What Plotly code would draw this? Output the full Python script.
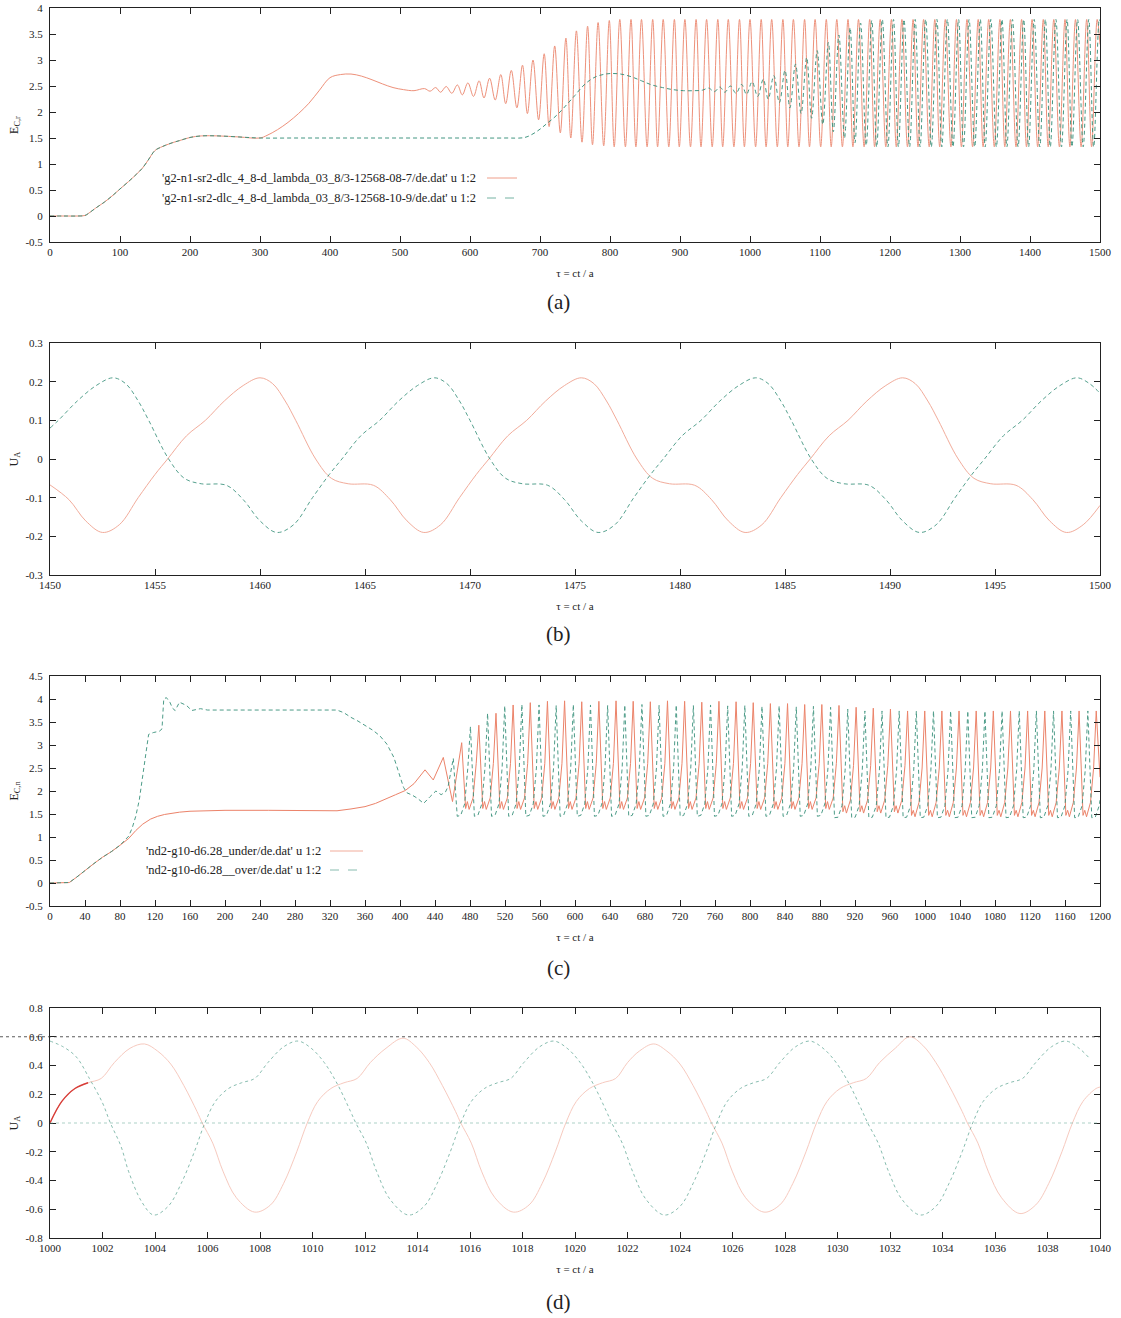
import plotly.graph_objects as go

# ---------------- DATA ----------------
# Panel (a): E_C,r vs tau, 0..1500
a_start_t = [0, 20, 40, 50, 55, 65, 78, 90, 100, 112, 124, 132, 140, 150, 158, 165, 175, 185, 200, 216, 240, 270, 300]
a_start_y = [0, 0, 0, 0.01, 0.05, 0.15, 0.27, 0.40, 0.52, 0.66, 0.81, 0.92, 1.07, 1.26, 1.32, 1.36, 1.41, 1.45, 1.51, 1.54, 1.54, 1.52, 1.50]

red_a_pre_t = [310, 325, 340, 355, 370, 385, 400, 415, 430, 445, 460, 475, 490, 505, 520]
red_a_pre_y = [1.55, 1.66, 1.80, 1.97, 2.17, 2.42, 2.66, 2.72, 2.73, 2.69, 2.62, 2.54, 2.47, 2.43, 2.41]
red_a_ext_t = [535, 543, 551, 558, 566, 574, 582, 589,
               597, 605, 613, 620, 628, 636, 644, 651,
               659, 667, 675, 682, 690, 698, 706, 713,
               721, 729, 737, 744, 752, 760, 768, 775,
               783, 791, 799, 806, 814, 822, 830, 837,
               845, 853, 861, 868, 876, 884, 892, 899,
               907, 915, 923, 930, 938, 946, 954, 961,
               969, 977, 985, 992, 1000, 1008, 1016, 1023,
               1031, 1039, 1047, 1054, 1062, 1070, 1078, 1085,
               1093, 1101, 1109, 1116, 1124, 1132, 1140, 1147,
               1155, 1163, 1171, 1178, 1186, 1194, 1202, 1209,
               1217, 1225, 1233, 1240, 1248, 1256, 1264, 1271,
               1279, 1287, 1295, 1302, 1310, 1318, 1326, 1333,
               1341, 1349, 1357, 1364, 1372, 1380, 1388, 1395,
               1403, 1411, 1419, 1426, 1434, 1442, 1450, 1457,
               1465, 1473, 1481, 1488, 1496, 1500]
red_a_ext_y = [2.45, 2.40, 2.47, 2.38, 2.49, 2.36, 2.52, 2.33, 2.56, 2.30,
               2.60, 2.27, 2.65, 2.23, 2.72, 2.16, 2.80, 2.08, 2.90, 1.97,
               3.00, 1.85, 3.12, 1.72, 3.27, 1.60, 3.42, 1.50, 3.56, 1.42,
               3.65, 1.37, 3.72, 1.35, 3.76, 1.33,
               3.78, 1.33, 3.78, 1.33, 3.78, 1.33, 3.78, 1.33, 3.78, 1.33,
               3.78, 1.33, 3.78, 1.33, 3.78, 1.33, 3.78, 1.33, 3.78, 1.33,
               3.78, 1.33, 3.78, 1.33, 3.78, 1.33, 3.78, 1.33, 3.78, 1.33,
               3.78, 1.33, 3.78, 1.33, 3.78, 1.33, 3.78, 1.33, 3.78, 1.33,
               3.78, 1.33, 3.78, 1.33, 3.78, 1.33, 3.78, 1.33, 3.78, 1.33,
               3.78, 1.33, 3.78, 1.33, 3.78, 1.33, 3.78, 1.33, 3.78, 1.33,
               3.78, 1.33, 3.78, 1.33, 3.78, 1.33, 3.78, 1.33, 3.78, 1.33,
               3.78, 1.33, 3.78, 1.33, 3.78, 1.33, 3.78, 1.33, 3.78, 1.33,
               3.78, 1.33, 3.78, 1.33, 3.78, 1.33, 3.78, 1.33, 3.78, 3.30]

green_a_pre_t = [350, 400, 450, 500, 550, 600, 650, 678, 690, 700, 710, 720, 730, 740, 750, 760,
                 770, 780, 790, 800, 815, 830, 845, 860, 875, 890, 905, 920, 932]
green_a_pre_y = [1.5, 1.5, 1.5, 1.5, 1.5, 1.5, 1.5, 1.51, 1.58, 1.67, 1.78, 1.89, 2.02, 2.17, 2.32, 2.48,
                 2.60, 2.68, 2.72, 2.74, 2.73, 2.68, 2.60, 2.52, 2.47, 2.43, 2.41, 2.41, 2.42]
green_a_ext_t = [941, 949, 957, 964, 972, 980, 988, 995,
                 1003, 1011, 1019, 1026, 1034, 1042, 1050, 1057,
                 1065, 1073, 1081, 1088, 1096, 1104, 1112, 1119,
                 1127, 1135, 1143, 1150, 1158, 1166, 1174, 1181,
                 1189, 1197, 1205, 1212, 1220, 1228, 1236, 1243,
                 1251, 1259, 1267, 1274, 1282, 1290, 1298, 1305,
                 1313, 1321, 1329, 1336, 1344, 1352, 1360, 1367,
                 1375, 1383, 1391, 1398, 1406, 1414, 1422, 1429,
                 1437, 1445, 1453, 1460, 1468, 1476, 1484, 1491,
                 1499, 1500]
green_a_ext_y = [2.46, 2.39, 2.48, 2.38, 2.50, 2.36, 2.53, 2.34, 2.58, 2.30,
                 2.63, 2.25, 2.70, 2.18, 2.80, 2.08, 2.92, 1.97, 3.05, 1.88,
                 3.18, 1.76, 3.34, 1.62, 3.48, 1.50, 3.62, 1.41, 3.71, 1.36,
                 3.76, 1.33,
                 3.78, 1.33, 3.78, 1.33, 3.78, 1.33, 3.78, 1.33, 3.78, 1.33,
                 3.78, 1.33, 3.78, 1.33, 3.78, 1.33, 3.78, 1.33, 3.78, 1.33,
                 3.78, 1.33, 3.78, 1.33, 3.78, 1.33, 3.78, 1.33, 3.78, 1.33,
                 3.78, 1.33, 3.78, 1.33, 3.78, 1.33, 3.78, 1.33, 3.78, 1.33,
                 3.78, 3.75]

# Panel (b): U_A vs tau, 1450..1500
red_b_t = [1450.0, 1450.9, 1451.7, 1452.5, 1453.3, 1454.2, 1455.0, 1455.6, 1456.5, 1457.4, 1458.3, 1459.2,
           1460.0, 1460.6, 1461.2, 1461.7, 1462.65, 1463.4, 1464.2, 1465.4, 1466.2, 1467.0, 1467.8, 1468.6, 1469.5, 1470.3, 1470.9, 1471.8, 1472.7, 1473.6, 1474.5,
           1475.3, 1475.9, 1476.5, 1477.0, 1477.95, 1478.7, 1479.5, 1480.7, 1481.5, 1482.3, 1483.1, 1483.9, 1484.8, 1485.6, 1486.2, 1487.1, 1488.0, 1488.9, 1489.8,
           1490.6, 1491.2, 1491.8, 1492.3, 1493.25, 1494.0, 1494.8, 1496.0, 1496.8, 1497.6, 1498.4, 1499.2, 1500.0]
red_b_y = [-0.067, -0.105, -0.16, -0.19, -0.17, -0.10, -0.04, 0.0, 0.06, 0.10, 0.15, 0.19,
           0.21, 0.195, 0.15, 0.10, 0.0, -0.05, -0.064, -0.068, -0.105, -0.16, -0.19, -0.17, -0.10, -0.04, 0.0, 0.06, 0.10, 0.15, 0.19,
           0.21, 0.195, 0.15, 0.10, 0.0, -0.05, -0.064, -0.068, -0.105, -0.16, -0.19, -0.17, -0.10, -0.04, 0.0, 0.06, 0.10, 0.15, 0.19,
           0.21, 0.195, 0.15, 0.10, 0.0, -0.05, -0.064, -0.068, -0.105, -0.16, -0.19, -0.17, -0.12]
green_b_t = [1450.0, 1450.4, 1451.3, 1452.2,
             1453.0, 1453.6, 1454.2, 1454.7, 1455.65, 1456.4, 1457.2, 1458.4, 1459.2, 1460.0, 1460.8, 1461.6, 1462.5, 1463.3, 1463.9, 1464.8, 1465.7, 1466.6, 1467.5,
             1468.3, 1468.9, 1469.5, 1470.0, 1470.95, 1471.7, 1472.5, 1473.7, 1474.5, 1475.3, 1476.1, 1476.9, 1477.8, 1478.6, 1479.2, 1480.1, 1481.0, 1481.9, 1482.8,
             1483.6, 1484.2, 1484.8, 1485.3, 1486.25, 1487.0, 1487.8, 1489.0, 1489.8, 1490.6, 1491.4, 1492.2, 1493.1, 1493.9, 1494.5, 1495.4, 1496.3, 1497.2, 1498.1,
             1498.9, 1499.5, 1500.0]
green_b_y = [0.08, 0.10, 0.15, 0.19,
             0.21, 0.195, 0.15, 0.10, 0.0, -0.05, -0.064, -0.068, -0.105, -0.16, -0.19, -0.17, -0.10, -0.04, 0.0, 0.06, 0.10, 0.15, 0.19,
             0.21, 0.195, 0.15, 0.10, 0.0, -0.05, -0.064, -0.068, -0.105, -0.16, -0.19, -0.17, -0.10, -0.04, 0.0, 0.06, 0.10, 0.15, 0.19,
             0.21, 0.195, 0.15, 0.10, 0.0, -0.05, -0.064, -0.068, -0.105, -0.16, -0.19, -0.17, -0.10, -0.04, 0.0, 0.06, 0.10, 0.15, 0.19,
             0.21, 0.195, 0.17]

# Panel (c): E_C,n vs tau, 0..1200
c_start_t = [0, 15, 22, 30, 40, 50, 60, 70, 80]
c_start_y = [0, 0, 0.01, 0.12, 0.28, 0.42, 0.56, 0.68, 0.82]

red_c_pre_t = [90, 98, 106, 115, 123, 131, 140, 148, 160, 200, 250, 300, 328, 344, 360, 372, 385, 395, 406, 416, 428.6, 438, 449.5, 460]
red_c_pre_y = [0.97, 1.14, 1.28, 1.39, 1.45, 1.49, 1.52, 1.54, 1.56, 1.58, 1.58, 1.57, 1.57, 1.61, 1.66, 1.73, 1.83, 1.92, 2.01, 2.16, 2.46, 2.24, 2.73, 1.77]
red_c_osc_t = [
    470.5, 475.0, 477.0, 479.0, 483.5, 487.1,
    490.1, 494.6, 496.6, 498.6, 503.1, 506.7,
    509.7, 514.2, 516.2, 518.2, 522.7, 526.3,
    529.3, 533.8, 535.8, 537.8, 542.3, 545.9,
    548.9, 553.4, 555.4, 557.4, 561.9, 565.5,
    568.5, 573.0, 575.0, 577.0, 581.5, 585.1,
    588.1, 592.6, 594.6, 596.6, 601.1, 604.7,
    607.7, 612.2, 614.2, 616.2, 620.7, 624.3,
    627.3, 631.8, 633.8, 635.8, 640.3, 643.9,
    646.9, 651.4, 653.4, 655.4, 659.9, 663.5,
    666.5, 671.0, 673.0, 675.0, 679.5, 683.1,
    686.1, 690.6, 692.6, 694.6, 699.1, 702.7,
    705.7, 710.2, 712.2, 714.2, 718.7, 722.3,
    725.3, 729.8, 731.8, 733.8, 738.3, 741.9,
    744.9, 749.4, 751.4, 753.4, 757.9, 761.5,
    764.5, 769.0, 771.0, 773.0, 777.5, 781.1,
    784.1, 788.6, 790.6, 792.6, 797.1, 800.7,
    803.7, 808.2, 810.2, 812.2, 816.7, 820.3,
    823.3, 827.8, 829.8, 831.8, 836.3, 839.9,
    842.9, 847.4, 849.4, 851.4, 855.9, 859.5,
    862.5, 867.0, 869.0, 871.0, 875.5, 879.1,
    882.1, 886.6, 888.6, 890.6, 895.1, 898.7,
    901.7, 906.2, 908.2, 910.2, 914.7, 918.3,
    921.3, 925.8, 927.8, 929.8, 934.3, 937.9,
    940.9, 945.4, 947.4, 949.4, 953.9, 957.5,
    960.5, 965.0, 967.0, 969.0, 973.5, 977.1,
    980.1, 984.6, 986.6, 988.6, 993.1, 996.7,
    999.7, 1004.2, 1006.2, 1008.2, 1012.7, 1016.3,
    1019.3, 1023.8, 1025.8, 1027.8, 1032.3, 1035.9,
    1038.9, 1043.4, 1045.4, 1047.4, 1051.9, 1055.5,
    1058.5, 1063.0, 1065.0, 1067.0, 1071.5, 1075.1,
    1078.1, 1082.6, 1084.6, 1086.6, 1091.1, 1094.7,
    1097.7, 1102.2, 1104.2, 1106.2, 1110.7, 1114.3,
    1117.3, 1121.8, 1123.8, 1125.8, 1130.3, 1133.9,
    1136.9, 1141.4, 1143.4, 1145.4, 1149.9, 1153.5,
    1156.5, 1161.0, 1163.0, 1165.0, 1169.5, 1173.1,
    1176.1, 1180.6, 1182.6, 1184.6, 1189.1, 1192.7,
    1195.7, 1200.0]
red_c_osc_y = [
    3.05, 1.62, 1.77, 1.60, 1.85, 2.60,
    3.43, 1.62, 1.77, 1.60, 1.85, 2.60,
    3.69, 1.62, 1.77, 1.60, 1.85, 2.60,
    3.87, 1.62, 1.77, 1.60, 1.85, 2.60,
    3.92, 1.62, 1.77, 1.60, 1.85, 2.60,
    3.95, 1.62, 1.77, 1.60, 1.85, 2.60,
    3.96, 1.62, 1.77, 1.60, 1.85, 2.60,
    3.94, 1.62, 1.77, 1.60, 1.85, 2.60,
    3.95, 1.62, 1.77, 1.60, 1.85, 2.60,
    3.96, 1.62, 1.77, 1.60, 1.85, 2.60,
    3.95, 1.62, 1.77, 1.60, 1.85, 2.60,
    3.94, 1.62, 1.77, 1.60, 1.85, 2.60,
    3.96, 1.62, 1.77, 1.60, 1.85, 2.60,
    3.95, 1.62, 1.77, 1.60, 1.85, 2.60,
    3.93, 1.62, 1.77, 1.60, 1.85, 2.60,
    3.95, 1.62, 1.77, 1.60, 1.85, 2.60,
    3.94, 1.62, 1.77, 1.60, 1.85, 2.60,
    3.92, 1.62, 1.77, 1.60, 1.85, 2.60,
    3.90, 1.62, 1.77, 1.60, 1.85, 2.60,
    3.90, 1.62, 1.77, 1.60, 1.85, 2.60,
    3.88, 1.62, 1.77, 1.60, 1.85, 2.60,
    3.88, 1.62, 1.77, 1.60, 1.85, 2.60,
    3.86, 1.55, 1.68, 1.52, 1.80, 2.55,
    3.82, 1.55, 1.68, 1.52, 1.80, 2.55,
    3.80, 1.55, 1.68, 1.52, 1.80, 2.55,
    3.78, 1.55, 1.68, 1.52, 1.80, 2.55,
    3.74, 1.47, 1.58, 1.44, 1.75, 2.50,
    3.74, 1.47, 1.58, 1.44, 1.75, 2.50,
    3.74, 1.47, 1.58, 1.44, 1.75, 2.50,
    3.74, 1.47, 1.58, 1.44, 1.75, 2.50,
    3.74, 1.47, 1.58, 1.44, 1.75, 2.50,
    3.74, 1.47, 1.58, 1.44, 1.75, 2.50,
    3.74, 1.47, 1.58, 1.44, 1.75, 2.50,
    3.74, 1.47, 1.58, 1.44, 1.75, 2.50,
    3.74, 1.47, 1.58, 1.44, 1.75, 2.50,
    3.74, 1.47, 1.58, 1.44, 1.75, 2.50,
    3.74, 1.47, 1.58, 1.44, 1.75, 2.50,
    3.74, 2.30]

green_c_pre_t = [85, 90, 94, 98, 102, 105, 108, 110.5, 112.7, 118,
                 125, 128, 130, 133, 137, 140, 143, 148, 152, 156,
                 162, 168, 172, 180, 220, 260, 300, 328, 336, 344,
                 352, 361, 369, 377, 385, 393, 399, 404, 408, 414,
                 420, 427, 434, 441, 447, 452, 455]
green_c_pre_y = [0.92, 1.02, 1.20, 1.45, 1.80, 2.20, 2.60, 2.90, 3.23, 3.27,
                 3.30, 3.35, 4.00, 4.03, 3.93, 3.80, 3.75, 3.93, 3.90, 3.86,
                 3.75, 3.77, 3.79, 3.76, 3.76, 3.76, 3.76, 3.76, 3.70, 3.60,
                 3.52, 3.42, 3.32, 3.20, 3.02, 2.73, 2.40, 2.08, 1.96, 1.91,
                 1.84, 1.73, 1.87, 2.00, 1.92, 1.98, 2.10]
green_c_osc_t = [
    460.9, 465.4, 469.4, 473.9, 477.5,
    480.5, 485.0, 489.0, 493.5, 497.1,
    500.1, 504.6, 508.6, 513.1, 516.7,
    519.7, 524.2, 528.2, 532.7, 536.3,
    539.3, 543.8, 547.8, 552.3, 555.9,
    558.9, 563.4, 567.4, 571.9, 575.5,
    578.5, 583.0, 587.0, 591.5, 595.1,
    598.1, 602.6, 606.6, 611.1, 614.7,
    617.7, 622.2, 626.2, 630.7, 634.3,
    637.3, 641.8, 645.8, 650.3, 653.9,
    656.9, 661.4, 665.4, 669.9, 673.5,
    676.5, 681.0, 685.0, 689.5, 693.1,
    696.1, 700.6, 704.6, 709.1, 712.7,
    715.7, 720.2, 724.2, 728.7, 732.3,
    735.3, 739.8, 743.8, 748.3, 751.9,
    754.9, 759.4, 763.4, 767.9, 771.5,
    774.5, 779.0, 783.0, 787.5, 791.1,
    794.1, 798.6, 802.6, 807.1, 810.7,
    813.7, 818.2, 822.2, 826.7, 830.3,
    833.3, 837.8, 841.8, 846.3, 849.9,
    852.9, 857.4, 861.4, 865.9, 869.5,
    872.5, 877.0, 881.0, 885.5, 889.1,
    892.1, 896.6, 900.6, 905.1, 908.7,
    911.7, 916.2, 920.2, 924.7, 928.3,
    931.3, 935.8, 939.8, 944.3, 947.9,
    950.9, 955.4, 959.4, 963.9, 967.5,
    970.5, 975.0, 979.0, 983.5, 987.1,
    990.1, 994.6, 998.6, 1003.1, 1006.7,
    1009.7, 1014.2, 1018.2, 1022.7, 1026.3,
    1029.3, 1033.8, 1037.8, 1042.3, 1045.9,
    1048.9, 1053.4, 1057.4, 1061.9, 1065.5,
    1068.5, 1073.0, 1077.0, 1081.5, 1085.1,
    1088.1, 1092.6, 1096.6, 1101.1, 1104.7,
    1107.7, 1112.2, 1116.2, 1120.7, 1124.3,
    1127.3, 1131.8, 1135.8, 1140.3, 1143.9,
    1146.9, 1151.4, 1155.4, 1159.9, 1163.5,
    1166.5, 1171.0, 1175.0, 1179.5, 1183.1,
    1186.1, 1190.6, 1194.6, 1199.1, 1200.0]
green_c_osc_y = [
    2.71, 1.45, 1.47, 1.72, 2.50,
    3.40, 1.45, 1.47, 1.72, 2.50,
    3.69, 1.45, 1.47, 1.72, 2.50,
    3.85, 1.45, 1.47, 1.72, 2.50,
    3.88, 1.45, 1.47, 1.72, 2.50,
    3.87, 1.45, 1.47, 1.72, 2.50,
    3.86, 1.45, 1.47, 1.72, 2.50,
    3.88, 1.45, 1.47, 1.72, 2.50,
    3.87, 1.45, 1.47, 1.72, 2.50,
    3.86, 1.45, 1.47, 1.72, 2.50,
    3.87, 1.45, 1.47, 1.72, 2.50,
    3.88, 1.45, 1.47, 1.72, 2.50,
    3.86, 1.45, 1.47, 1.72, 2.50,
    3.87, 1.45, 1.47, 1.72, 2.50,
    3.86, 1.45, 1.47, 1.72, 2.50,
    3.87, 1.45, 1.47, 1.72, 2.50,
    3.85, 1.45, 1.47, 1.72, 2.50,
    3.86, 1.45, 1.47, 1.72, 2.50,
    3.84, 1.45, 1.47, 1.72, 2.50,
    3.85, 1.45, 1.47, 1.72, 2.50,
    3.83, 1.45, 1.47, 1.72, 2.50,
    3.84, 1.45, 1.47, 1.72, 2.50,
    3.82, 1.42, 1.43, 1.68, 2.45,
    3.78, 1.42, 1.43, 1.68, 2.45,
    3.74, 1.42, 1.43, 1.68, 2.45,
    3.74, 1.42, 1.43, 1.68, 2.45,
    3.74, 1.42, 1.43, 1.68, 2.45,
    3.74, 1.42, 1.43, 1.68, 2.45,
    3.74, 1.42, 1.43, 1.68, 2.45,
    3.74, 1.42, 1.43, 1.68, 2.45,
    3.74, 1.42, 1.43, 1.68, 2.45,
    3.74, 1.42, 1.43, 1.68, 2.45,
    3.74, 1.42, 1.43, 1.68, 2.45,
    3.74, 1.42, 1.43, 1.68, 2.45,
    3.74, 1.42, 1.43, 1.68, 2.45,
    3.74, 1.42, 1.43, 1.68, 2.45,
    3.74, 1.42, 1.43, 1.68, 2.45,
    3.74, 1.42, 1.43, 1.68, 1.80]

# Panel (d): U_A vs tau, 1000..1040
red_d_t = [1000.0, 1000.45, 1000.95, 1001.45, 1001.95, 1002.45, 1003.05,
           1003.6, 1004.1, 1004.6, 1005.1, 1005.6, 1005.8, 1006.2, 1006.6, 1007.1, 1007.8, 1008.4, 1008.9, 1009.4, 1009.8, 1010.2, 1010.7, 1011.2, 1011.7, 1012.2, 1012.8,
           1013.45, 1013.95, 1014.45, 1014.95, 1015.45, 1015.65, 1016.05, 1016.45, 1016.95, 1017.65, 1018.25, 1018.75, 1019.25, 1019.65, 1020.05, 1020.55, 1021.05, 1021.55, 1022.0, 1022.45,
           1023.0, 1023.5, 1024.0, 1024.5, 1025.0, 1025.2, 1025.6, 1026.0, 1026.5, 1027.2, 1027.8, 1028.3, 1028.8, 1029.2, 1029.6, 1030.1, 1030.6, 1031.1, 1031.6, 1032.2,
           1032.75, 1033.25, 1033.75, 1034.25, 1034.75, 1034.95, 1035.35, 1035.75, 1036.25, 1036.95, 1037.55, 1038.05, 1038.55, 1038.95, 1039.35, 1039.85, 1040.0]
red_d_y = [0.0, 0.15, 0.24, 0.28, 0.31, 0.42, 0.52,
           0.55, 0.50, 0.41, 0.26, 0.08, 0.0, -0.14, -0.34, -0.52, -0.62, -0.57, -0.42, -0.20, 0.0, 0.15, 0.24, 0.28, 0.31, 0.42, 0.52,
           0.59, 0.53, 0.42, 0.26, 0.08, 0.0, -0.14, -0.34, -0.52, -0.62, -0.57, -0.42, -0.20, 0.0, 0.15, 0.24, 0.28, 0.31, 0.42, 0.50,
           0.55, 0.50, 0.41, 0.26, 0.08, 0.0, -0.14, -0.34, -0.52, -0.62, -0.57, -0.42, -0.20, 0.0, 0.15, 0.24, 0.28, 0.31, 0.42, 0.52,
           0.60, 0.54, 0.42, 0.26, 0.08, 0.0, -0.14, -0.34, -0.52, -0.63, -0.57, -0.42, -0.20, 0.0, 0.15, 0.24, 0.25]
green_d_t = [1000.0, 1000.5, 1001.0, 1001.5, 1002.0, 1002.3, 1002.7, 1003.0, 1003.5, 1003.95, 1004.5, 1005.0, 1005.5, 1005.9, 1006.3, 1006.8, 1007.3, 1007.8, 1008.3, 1008.9,
             1009.45, 1009.95, 1010.45, 1010.95, 1011.45, 1011.65, 1012.05, 1012.45, 1012.95, 1013.65, 1014.25, 1014.75, 1015.25, 1015.65, 1016.05, 1016.55, 1017.05, 1017.55, 1018.05, 1018.65,
             1019.2, 1019.7, 1020.2, 1020.7, 1021.2, 1021.4, 1021.8, 1022.2, 1022.7, 1023.4, 1024.0, 1024.5, 1025.0, 1025.4, 1025.8, 1026.3, 1026.8, 1027.3, 1027.8, 1028.4,
             1028.95, 1029.45, 1029.95, 1030.45, 1030.95, 1031.15, 1031.55, 1031.95, 1032.45, 1033.15, 1033.75, 1034.25, 1034.75, 1035.15, 1035.55, 1036.05, 1036.55, 1037.05, 1037.55, 1038.15,
             1038.7, 1039.2, 1039.6]
green_d_y = [0.57, 0.53, 0.46, 0.31, 0.14, 0.0, -0.16, -0.34, -0.55, -0.64, -0.58, -0.42, -0.20, 0.0, 0.15, 0.24, 0.28, 0.31, 0.42, 0.53,
             0.57, 0.52, 0.42, 0.27, 0.08, 0.0, -0.14, -0.34, -0.53, -0.64, -0.58, -0.42, -0.20, 0.0, 0.15, 0.24, 0.28, 0.31, 0.42, 0.53,
             0.57, 0.52, 0.42, 0.27, 0.08, 0.0, -0.14, -0.34, -0.53, -0.64, -0.58, -0.42, -0.20, 0.0, 0.15, 0.24, 0.28, 0.31, 0.42, 0.53,
             0.57, 0.52, 0.42, 0.27, 0.08, 0.0, -0.14, -0.34, -0.53, -0.64, -0.58, -0.42, -0.20, 0.0, 0.15, 0.24, 0.28, 0.31, 0.42, 0.53,
             0.57, 0.52, 0.45]

# Tick values / labels
a_xticks = [0, 100, 200, 300, 400, 500, 600, 700, 800, 900, 1000, 1100, 1200, 1300, 1400, 1500]
a_yticks = [-0.5, 0, 0.5, 1, 1.5, 2, 2.5, 3, 3.5, 4]
a_ylabels = ["-0.5", "0", "0.5", "1", "1.5", "2", "2.5", "3", "3.5", "4"]
b_xticks = [1450, 1455, 1460, 1465, 1470, 1475, 1480, 1485, 1490, 1495, 1500]
b_yticks = [-0.3, -0.2, -0.1, 0, 0.1, 0.2, 0.3]
b_ylabels = ["-0.3", "-0.2", "-0.1", "0", "0.1", "0.2", "0.3"]
c_xticks = [0, 40, 80, 120, 160, 200, 240, 280, 320, 360, 400, 440, 480, 520, 560, 600,
            640, 680, 720, 760, 800, 840, 880, 920, 960, 1000, 1040, 1080, 1120, 1160, 1200]
c_yticks = [-0.5, 0, 0.5, 1, 1.5, 2, 2.5, 3, 3.5, 4, 4.5]
c_ylabels = ["-0.5", "0", "0.5", "1", "1.5", "2", "2.5", "3", "3.5", "4", "4.5"]
d_xticks = [1000, 1002, 1004, 1006, 1008, 1010, 1012, 1014, 1016, 1018, 1020,
            1022, 1024, 1026, 1028, 1030, 1032, 1034, 1036, 1038, 1040]
d_yticks = [-0.8, -0.6, -0.4, -0.2, 0, 0.2, 0.4, 0.6, 0.8]
d_ylabels = ["-0.8", "-0.6", "-0.4", "-0.2", "0", "0.2", "0.4", "0.6", "0.8"]

legend_a = ["'g2-n1-sr2-dlc_4_8-d_lambda_03_8/3-12568-08-7/de.dat' u 1:2",
            "'g2-n1-sr2-dlc_4_8-d_lambda_03_8/3-12568-10-9/de.dat' u 1:2"]
legend_c = ["'nd2-g10-d6.28_under/de.dat' u 1:2",
            "'nd2-g10-d6.28__over/de.dat' u 1:2"]
x_title = "τ = ct / a"
y_titles = ["E<sub>C,r</sub>", "U<sub>A</sub>", "E<sub>C,n</sub>", "U<sub>A</sub>"]
captions = ["(a)", "(b)", "(c)", "(d)"]

# ---------------- CHECKS ----------------
pairs = [(a_start_t, a_start_y), (red_a_pre_t, red_a_pre_y), (red_a_ext_t, red_a_ext_y),
         (green_a_pre_t, green_a_pre_y), (green_a_ext_t, green_a_ext_y),
         (red_b_t, red_b_y), (green_b_t, green_b_y), (c_start_t, c_start_y),
         (red_c_pre_t, red_c_pre_y), (red_c_osc_t, red_c_osc_y),
         (green_c_pre_t, green_c_pre_y), (green_c_osc_t, green_c_osc_y),
         (red_d_t, red_d_y), (green_d_t, green_d_y)]
for i, (tt, yy) in enumerate(pairs):
    assert len(tt) == len(yy), (i, len(tt), len(yy))

# ---------------- FIGURE ----------------
W, H = 1121, 1318
LEFT, RIGHT = 50, 1100
BOX = {1: (8, 242), 2: (343, 575), 3: (676, 906), 4: (1008, 1238)}
CAP_Y = {1: 302, 2: 634, 3: 968, 4: 1302}
RED = "rgb(234,118,90)"
GREEN = "rgb(58,146,124)"
FONT = "Liberation Serif, Times New Roman, serif"


def fx(p):
    return p / W


def fy(p):
    return 1 - p / H


fig = go.Figure()


def add(ts, ys, idx, color, dash, shape, opacity=1.0, width=1.0):
    xa = "x" if idx == 1 else f"x{idx}"
    ya = "y" if idx == 1 else f"y{idx}"
    fig.add_trace(go.Scatter(x=ts, y=ys, xaxis=xa, yaxis=ya, mode="lines",
                             line=dict(color=color, width=width, dash=dash, shape=shape),
                             opacity=opacity, hoverinfo="skip", showlegend=False))


DASH = "4px,3px"
# (a)
add(a_start_t + red_a_pre_t + red_a_ext_t, a_start_y + red_a_pre_y + red_a_ext_y, 1, RED, "solid", "spline", 0.8)
add(a_start_t + green_a_pre_t + green_a_ext_t, a_start_y + green_a_pre_y + green_a_ext_y, 1, GREEN, DASH, "spline", 0.95)
# (b)
add(red_b_t, red_b_y, 2, RED, "solid", "spline", 0.6)
add(green_b_t, green_b_y, 2, GREEN, DASH, "spline", 0.85)
# (c)
add(c_start_t + red_c_pre_t + red_c_osc_t, c_start_y + red_c_pre_y + red_c_osc_y, 3, RED, "solid", "linear", 0.9)
add(c_start_t + green_c_pre_t + green_c_osc_t, c_start_y + green_c_pre_y + green_c_osc_y, 3, GREEN, DASH, "linear", 0.9)
# (d)  (the reference print is very faint here, except the first red stroke)
add(red_d_t, red_d_y, 4, RED, "solid", "spline", 0.38)
add(green_d_t, green_d_y, 4, GREEN, "3px,3px", "spline", 0.6)
add(red_d_t[:4], red_d_y[:4], 4, "rgb(215,60,55)", "solid", "spline", 1.0, 1.4)

axis_common = dict(showline=True, linecolor="#222", linewidth=1, mirror="ticks", ticks="inside",
                   ticklen=6, tickcolor="#222", tickwidth=1, showgrid=False, zeroline=False,
                   automargin=False,
                   tickfont=dict(family=FONT, size=11, color="#222"), tickmode="array")

cfg = {
    1: ([0, 1500], [-0.5, 4], a_xticks, a_yticks, a_ylabels),
    2: ([1450, 1500], [-0.3, 0.3], b_xticks, b_yticks, b_ylabels),
    3: ([0, 1200], [-0.5, 4.5], c_xticks, c_yticks, c_ylabels),
    4: ([1000, 1040], [-0.8, 0.8], d_xticks, d_yticks, d_ylabels),
}
layout = dict(width=W, height=H, margin=dict(l=0, r=0, t=0, b=0, autoexpand=False),
              plot_bgcolor="white", paper_bgcolor="white", showlegend=False)
for i, (xr, yr, xt, yt, ytl) in cfg.items():
    top, bot = BOX[i]
    xname = "xaxis" if i == 1 else f"xaxis{i}"
    yname = "yaxis" if i == 1 else f"yaxis{i}"
    layout[xname] = dict(domain=[fx(LEFT), fx(RIGHT)], anchor="y" if i == 1 else f"y{i}",
                         range=xr, tickvals=xt, ticktext=[str(v) for v in xt],
                         title=dict(text=x_title, standoff=12, font=dict(family=FONT, size=11, color="#222")),
                         **axis_common)
    layout[yname] = dict(domain=[fy(bot), fy(top)], anchor="x" if i == 1 else f"x{i}",
                         range=yr, tickvals=yt, ticktext=ytl, ticklabelstandoff=4,
                         title=dict(text=y_titles[i - 1], standoff=4, font=dict(family=FONT, size=12, color="#222")),
                         **axis_common)
fig.update_layout(**layout)

ann = []
for i in range(1, 5):
    ann.append(dict(text=captions[i - 1], x=fx(558), y=fy(CAP_Y[i]), xref="paper", yref="paper", showarrow=False,
                    font=dict(family=FONT, size=21, color="#222"), xanchor="center", yanchor="middle"))

# legends (gnuplot style: text, then sample)
shapes = []
for txt, yy, col, dsh in [(legend_a[0], 178, RED, "solid"), (legend_a[1], 198, GREEN, "dash")]:
    ann.append(dict(text=txt, x=fx(478), y=fy(yy), xref="paper", yref="paper", showarrow=False,
                    font=dict(family=FONT, size=12.4, color="#222"), xanchor="right", yanchor="middle"))
    shapes.append(dict(type="line", xref="paper", yref="paper", x0=fx(487), x1=fx(517), y0=fy(yy), y1=fy(yy),
                       line=dict(color=col, width=1, dash=dsh), opacity=0.7))
for txt, yy, col, dsh in [(legend_c[0], 851, RED, "solid"), (legend_c[1], 870, GREEN, "dash")]:
    ann.append(dict(text=txt, x=fx(323), y=fy(yy), xref="paper", yref="paper", showarrow=False,
                    font=dict(family=FONT, size=12.5, color="#222"), xanchor="right", yanchor="middle"))
    shapes.append(dict(type="line", xref="paper", yref="paper", x0=fx(330), x1=fx(363), y0=fy(yy), y1=fy(yy),
                       line=dict(color=col, width=1, dash=dsh), opacity=0.6))

# reference lines in (d)
shapes.append(dict(type="line", xref="paper", yref="y4", x0=0.0, x1=fx(RIGHT), y0=0.6, y1=0.6,
                   line=dict(color="#333", width=1, dash="dot"), opacity=0.8))
shapes.append(dict(type="line", xref="x4", yref="y4", x0=1000, x1=1040, y0=0, y1=0,
                   line=dict(color="rgb(120,180,165)", width=1, dash="dot"), opacity=0.6))

fig.update_layout(annotations=ann, shapes=shapes)
fig.write_html("out.html")
